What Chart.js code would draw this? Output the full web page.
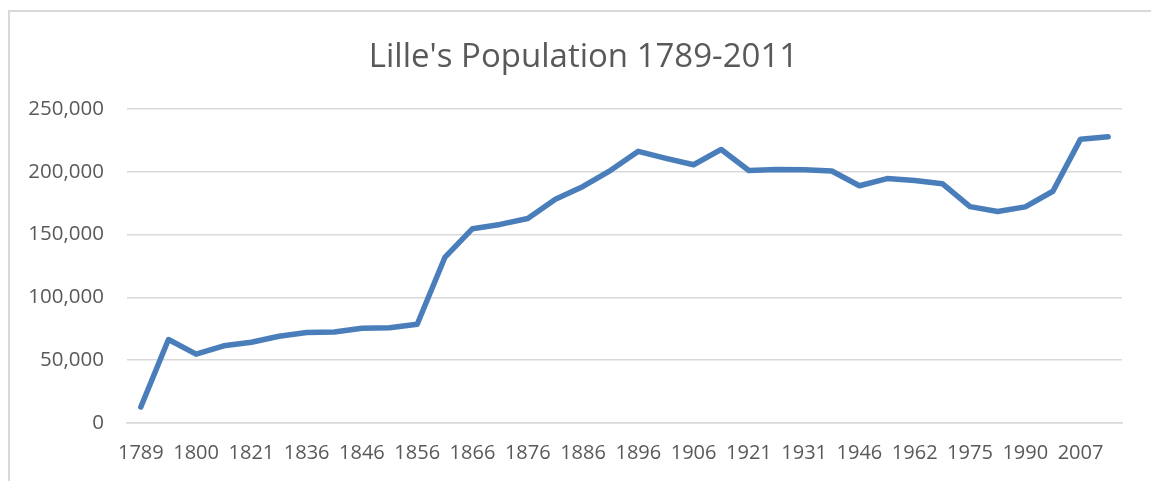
<!DOCTYPE html>
<html>
<head>
<meta charset="utf-8">
<script src="https://cdn.jsdelivr.net/npm/chart.js@4"></script>
<style>
    html, body { margin: 0; padding: 0; background: #fff; overflow: hidden; }
    #frame { position: absolute; left: 8px; top: 10px; width: 1160px; height: 490px; border-left: 2px solid #d9d9d9; border-top: 2px solid #d9d9d9; }
    #wrap { position: absolute; left: 0; top: 0; width: 1151px; height: 481px; }
</style>
</head>
<body>
<div id="frame"></div>
<div id="wrap"><canvas id="popChart" width="1151" height="481"></canvas></div>
<script>
// census years (only every other one is labelled on the axis)
var years = ['1789', '1793', '1800', '1806', '1821', '1831', '1836', '1841', '1846', '1851',
             '1856', '1861', '1866', '1872', '1876', '1881', '1886', '1891', '1896', '1901',
             '1906', '1911', '1921', '1926', '1931', '1936', '1946', '1954', '1962', '1968',
             '1975', '1982', '1990', '1999', '2007', '2011'];

var population = [12700, 66500, 54800, 61500, 64300, 69100, 72000, 72500, 75400, 75800,
                  78600, 131800, 154700, 158100, 162800, 178100, 188300, 201200, 216300, 210700,
                  205600, 217800, 201000, 201900, 201600, 200600, 188900, 194600, 193100, 190500,
                  172300, 168400, 172100, 184500, 226000, 227900];

var chartTitle = "Lille's Population 1789-2011";

var yMax = 250000;
var yStep = 50000;

var textColor = '#595959';
var gridColor = '#d9d9d9';

// the title is centred on the whole frame, not on the chart box, so draw it ourselves
var frameTitle = {
    id: 'frameTitle',
    afterDraw: function(chart) {
        var c = chart.ctx;
        c.save();
        c.fillStyle = textColor;
        c.font = '33px "Open Sans"';
        c.textAlign = 'center';
        c.textBaseline = 'middle';
        c.fillText(chartTitle, chart.width / 2 + 8, 58);
        c.restore();
    }
};

function drawChart() {
    var ctx = document.getElementById('popChart').getContext('2d');
    var myChart = new Chart(ctx, {
        type: 'line',
        data: {
            labels: years,
            datasets: [{
                label: 'Population',
                data: population,
                borderColor: '#4a7ebb',
                borderWidth: 5.5,
                borderJoinStyle: 'round',
                borderCapStyle: 'round',
                pointRadius: 0,
                tension: 0,
                fill: false
            }]
        },
        options: {
            responsive: false,
            animation: false,
            layout: { padding: { left: 0, right: 29, top: 109, bottom: 0 } },
            plugins: {
                legend: { display: false },
                tooltip: { enabled: false },
                title: { display: false }
            },
            scales: {
                x: {
                    offset: true,
                    grid: { display: false, drawTicks: false },
                    border: { display: true, color: gridColor, width: 1.5 },
                    ticks: {
                        autoSkip: false,
                        maxRotation: 0,
                        minRotation: 0,
                        padding: 18,
                        color: textColor,
                        font: { family: 'Open Sans', size: 20 },
                        callback: function(val, index) {
                            return index % 2 === 0 ? this.getLabelForValue(val) : '';
                        }
                    },
                    afterFit: function(scale) { scale.height = 58; }
                },
                y: {
                    min: 0,
                    max: yMax,
                    grid: { color: gridColor, lineWidth: 1.5, drawTicks: false },
                    border: { display: false },
                    ticks: {
                        stepSize: yStep,
                        padding: 23,
                        color: textColor,
                        font: { family: 'Open Sans', size: 20.5 },
                        callback: function(v) { return v.toLocaleString('en-US'); }
                    },
                    afterFit: function(scale) { scale.width = 127; }
                }
            }
        },
        plugins: [frameTitle]
    });
}

drawChart();
</script>
</body>
</html>
